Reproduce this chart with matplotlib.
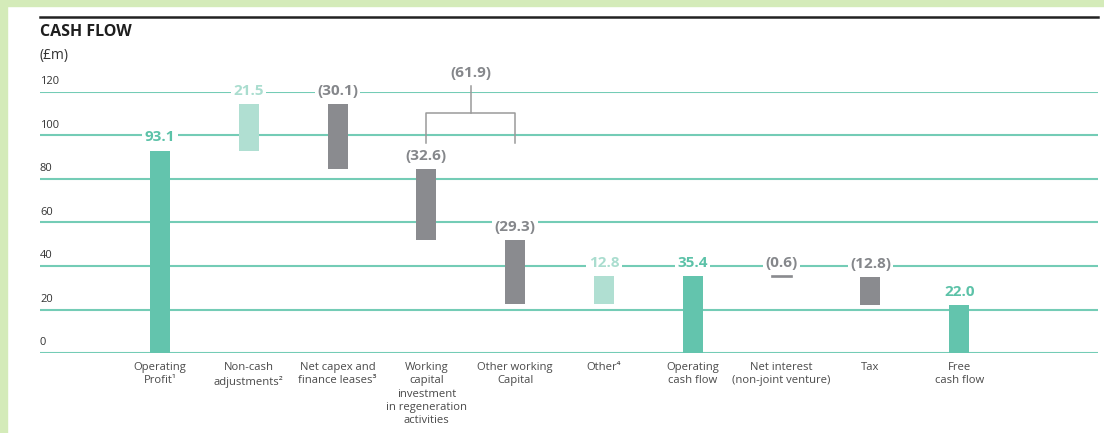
import matplotlib
matplotlib.use("Agg")
import matplotlib.pyplot as plt
from matplotlib.patches import Rectangle

plt.rcParams['font.family'] = ['Open Sans', 'DejaVu Sans']

categories = ["Operating\nProfit¹", "Non-cash\nadjustments²", "Net capex and\nfinance leases³",
              "Working\ncapital\ninvestment\nin regeneration\nactivities", "Other working\nCapital",
              "Other⁴", "Operating\ncash flow", "Net interest\n(non-joint venture)", "Tax",
              "Free\ncash flow"]
values = [93.1, 21.5, -30.1, -32.6, -29.3, 12.8, 35.4, -0.6, -12.8, 22.0]
kinds = ["total", "pos", "neg", "neg", "neg", "pos", "total", "neg", "neg", "total"]
labels = ["93.1", "21.5", "(30.1)", "(32.6)", "(29.3)", "12.8", "35.4", "(0.6)", "(12.8)", "22.0"]
group_label = "(61.9)"
yticks = [0, 20, 40, 60, 80, 100, 120]

bar_col = {"total": "#63c4ad", "pos": "#b0dfd2", "neg": "#8a8b8f"}
txt_col = {"total": "#5cc2a8", "pos": "#aaddcf", "neg": "#85878b"}
grid_col = "#74ccb6"

W, H = 1104, 433
fig = plt.figure(figsize=(W / 100, H / 100), dpi=100)
fig.patch.set_facecolor("white")

# light green frame
green = "#d4ebb9"
fig.patches.append(Rectangle((0, 0), 7 / W, 1, transform=fig.transFigure, color=green, zorder=0))
fig.patches.append(Rectangle((0, 1 - 6 / H), 1, 6 / H, transform=fig.transFigure, color=green, zorder=0))

# top black rule
fig.add_artist(plt.Line2D([40 / W, 1098 / W], [1 - 17 / H, 1 - 17 / H], color="#222222", lw=1.8,
                          transform=fig.transFigure))
fig.text(40 / W, 1 - 32 / H, "CASH FLOW", fontsize=11.5, fontweight="bold", color="#1e1e1e",
         va="center", ha="left")
fig.text(40 / W, 1 - 55 / H, "(£m)", fontsize=10, color="#333333", va="center", ha="left")

left, right = 40 / W, 1098 / W
bottom, top = (H - 353) / H, (H - 92) / H
ax = fig.add_axes([left, bottom, right - left, top - bottom])
ax.set_facecolor("none")
for s in ax.spines.values():
    s.set_visible(False)
ax.set_xticks([])
ax.set_yticks([])
step = 88.8
ax.set_xlim((40 - 160) / step, (1098 - 160) / step)
ax.set_ylim(0, 120)

for v in yticks:
    ax.axhline(v, color=grid_col, lw=1.5, zorder=1)
    ax.annotate(str(v), xy=(0, v), xycoords=("axes fraction", "data"), xytext=(0, 7.5),
                textcoords="offset points", ha="left", va="center", fontsize=8, color="#333333")

running = 0.0
bw = 20 / step
for i, (val, k, lab, cat) in enumerate(zip(values, kinds, labels, categories)):
    if k == "total":
        bot, h = 0, val
        running = val
    else:
        start = running
        running = running + val
        bot, h = min(start, running), abs(val)
    ax.bar(i, h, bottom=bot, width=bw, color=bar_col[k], zorder=3,
           edgecolor=bar_col[k] if h < 2 else "none", linewidth=1.2 if h < 2 else 0)
    ax.annotate(lab, xy=(i, bot + h), xytext=(0, 9.5), textcoords="offset points",
                ha="center", va="center", fontsize=11, fontweight="bold", color=txt_col[k],
                bbox=dict(boxstyle="square,pad=0.15", fc="white", ec="none"), zorder=4,
                annotation_clip=False)
    ax.annotate(cat, xy=(i, 0), xytext=(0, -6.5), textcoords="offset points", ha="center", va="top",
                fontsize=8.1, color="#4a4a4a", linespacing=1.29, annotation_clip=False)

# bracket grouping the two working capital items
bc = "#9a9a9a"
x0, x1 = 3, 4
xm = (x0 + x1) / 2
ax.plot([x0, x0, x1, x1], [96.6, 110.3, 110.3, 96.6], color=bc, lw=1.1, zorder=3, clip_on=False)
ax.plot([xm, xm], [110.3, 122.8], color=bc, lw=1.1, zorder=3, clip_on=False)
ax.annotate(group_label, xy=(xm, 128.7), ha="center", va="center", fontsize=11, fontweight="bold",
            color=txt_col["neg"], annotation_clip=False)

fig.savefig("out.png", dpi=100)
